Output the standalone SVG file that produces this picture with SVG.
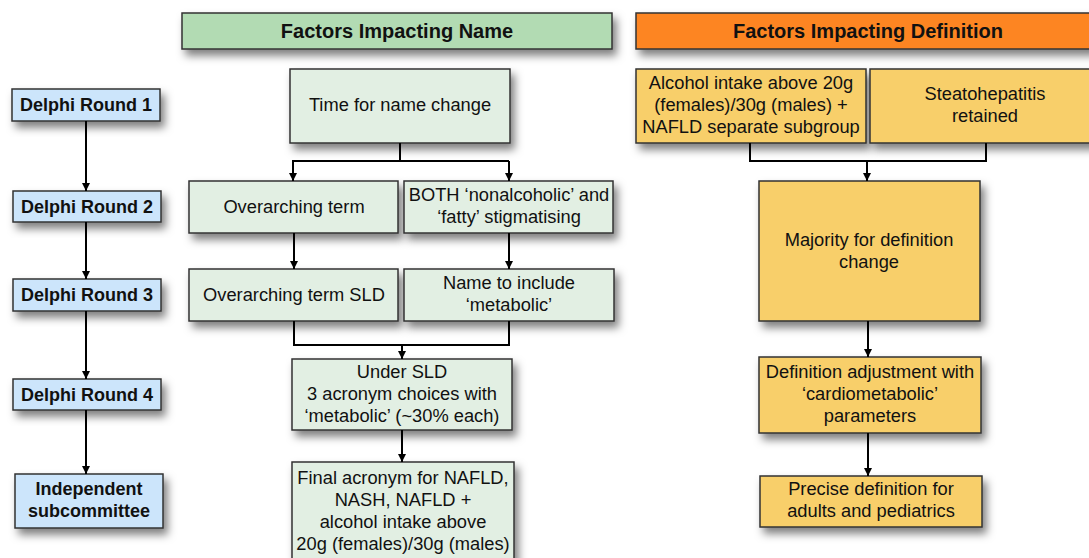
<svg xmlns="http://www.w3.org/2000/svg" width="1089" height="558" viewBox="0 0 1089 558">
<defs>
<filter id="sh" x="-20%" y="-30%" width="150%" height="180%">
<feDropShadow dx="4" dy="6" stdDeviation="4" flood-color="#000" flood-opacity="0.5"/>
</filter>
<marker id="ah" viewBox="0 0 10 10" refX="10" refY="5" markerWidth="4" markerHeight="4.5" orient="auto" markerUnits="strokeWidth">
<path d="M0,0 L10,5 L0,10 z" fill="#000"/>
</marker>
</defs>
<style>
rect{stroke:#333;stroke-width:1.5;filter:url(#sh)}
.hg{fill:#b2dbb3}
.ho{fill:#fd8522}
.bl{fill:#cce5fb}
.gr{fill:#e2efe3}
.ye{fill:#f8cf6b}
text{font-family:"Liberation Sans",Arial,sans-serif;font-size:18.3px;fill:#111;text-anchor:middle}
.b{font-weight:bold;font-size:18px}
.h{font-weight:bold;font-size:20px}
.c path{fill:none;stroke:#000;stroke-width:2}
.c .a{marker-end:url(#ah)}
</style>
<rect x="0" y="0" width="1089" height="558" fill="#fff" style="stroke:none;filter:none"/>

<g id="hdr-name"><rect class="hg" x="182" y="13" width="430" height="36"/><text class="h" x="397" y="38">Factors Impacting Name</text></g>
<g id="hdr-def"><rect class="ho" x="636" y="13" width="460" height="36"/><text class="h" x="868" y="38">Factors Impacting Definition</text></g>

<g id="dr1"><rect class="bl" x="12" y="89" width="148" height="32"/><text class="b" x="86" y="111">Delphi Round 1</text></g>
<g id="dr2"><rect class="bl" x="13" y="191" width="148" height="31"/><text class="b" x="87" y="213">Delphi Round 2</text></g>
<g id="dr3"><rect class="bl" x="13" y="279" width="148" height="32"/><text class="b" x="87" y="301">Delphi Round 3</text></g>
<g id="dr4"><rect class="bl" x="13" y="379" width="148" height="31"/><text class="b" x="87" y="401">Delphi Round 4</text></g>
<g id="indep"><rect class="bl" x="15" y="474" width="148" height="54"/><text class="b" x="89" y="495">Independent</text><text class="b" x="89" y="517">subcommittee</text></g>

<g id="n-time"><rect class="gr" x="290" y="69" width="220" height="74"/><text x="400" y="111">Time for name change</text></g>
<g id="n-over"><rect class="gr" x="189" y="181" width="209" height="52"/><text x="294" y="213">Overarching term</text></g>
<g id="n-both"><rect class="gr" x="404" y="181" width="209" height="52"/><text x="509" y="201">BOTH ‘nonalcoholic’ and</text><text x="509" y="223">‘fatty’ stigmatising</text></g>
<g id="n-sld"><rect class="gr" x="189" y="269" width="209" height="52"/><text x="294" y="301">Overarching term SLD</text></g>
<g id="n-meta"><rect class="gr" x="404" y="269" width="210" height="52"/><text x="509" y="289">Name to include</text><text x="509" y="311">‘metabolic’</text></g>
<g id="n-under"><rect class="gr" x="292" y="359" width="220" height="71"/><text x="402" y="378">Under SLD</text><text x="402" y="400">3 acronym choices with</text><text x="402" y="422">‘metabolic’ (~30% each)</text></g>
<g id="n-final"><rect class="gr" x="292" y="462" width="222" height="110"/><text x="403" y="484">Final acronym for NAFLD,</text><text x="403" y="506">NASH, NAFLD +</text><text x="403" y="528">alcohol intake above</text><text x="403" y="550">20g (females)/30g (males)</text></g>

<g id="d-alc"><rect class="ye" x="636" y="69" width="230" height="74"/><text x="751" y="89">Alcohol intake above 20g</text><text x="751" y="111">(females)/30g (males) +</text><text x="751" y="133">NAFLD separate subgroup</text></g>
<g id="d-steato"><rect class="ye" x="870" y="69" width="230" height="74"/><text x="985" y="100">Steatohepatitis</text><text x="985" y="122">retained</text></g>
<g id="d-major"><rect class="ye" x="759" y="181" width="221" height="140"/><text x="869" y="246">Majority for definition</text><text x="869" y="268">change</text></g>
<g id="d-adj"><rect class="ye" x="759" y="357" width="222" height="76"/><text x="870" y="378">Definition adjustment with</text><text x="870" y="400">‘cardiometabolic’</text><text x="870" y="422">parameters</text></g>
<g id="d-precise"><rect class="ye" x="760" y="476" width="222" height="51"/><text x="871" y="495">Precise definition for</text><text x="871" y="517">adults and pediatrics</text></g>

<g id="connectors" class="c">
<path class="a" d="M86,121 V191"/>
<path class="a" d="M86,222 V279"/>
<path class="a" d="M86,311 V379"/>
<path class="a" d="M86,410 V474"/>
<path d="M400,143 V161"/>
<path class="a" d="M294,161 H293 V181"/>
<path d="M293,161 H509"/>
<path class="a" d="M509,161 V181"/>
<path class="a" d="M294,233 V269"/>
<path class="a" d="M509,233 V269"/>
<path d="M294,321 V345 H509 V321"/>
<path class="a" d="M402,345 V359"/>
<path class="a" d="M402,430 V462"/>
<path d="M750,143 V161 H986 V143"/>
<path class="a" d="M867,161 V181"/>
<path class="a" d="M868,321 V357"/>
<path class="a" d="M868,433 V476"/>
</g>
</svg>
